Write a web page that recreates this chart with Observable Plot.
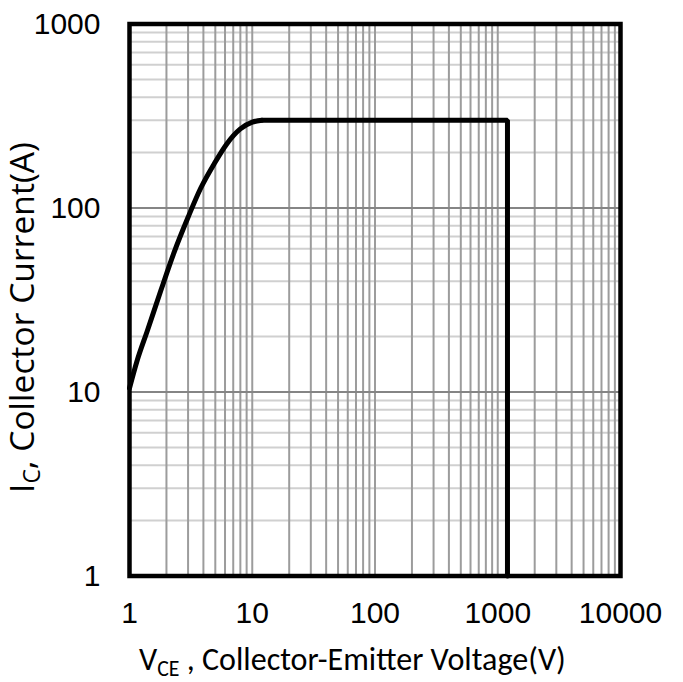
<!DOCTYPE html>
<html><head><meta charset="utf-8">
<script src="https://cdn.jsdelivr.net/npm/d3@7"></script>
<script src="https://cdn.jsdelivr.net/npm/@observablehq/plot@0.6"></script>
<style>body{margin:0;background:#fff}</style>
</head><body><div id="chart"></div>
<script>
// Safe operating area: knee region (rising curve) then current/voltage limits
const kneeV = [1, 1.15, 1.4, 1.8, 2.3, 3, 3.8, 4.9, 6.2, 8, 10, 12];
const kneeI = [10.5, 14.7, 21.6, 35.6, 57, 89, 128, 174, 223, 269, 293, 300];
const limitV = [12, 1200, 1200];
const limitI = [300, 300, 1];
const xTicks = [1, 10, 100, 1000, 10000];
const yTicks = [1, 10, 100, 1000];
const xLabel = ["V", "CE", " , Collector-Emitter Voltage(V)"];
const yLabel = ["I", "C", ", Collector Current(A)"];

const knee = kneeV.map((v, i) => ({v, i: kneeI[i]}));
const limit = limitV.map((v, i) => ({v, i: limitI[i]}));

function minors(decades) {
  const out = [];
  for (const b of decades) for (let k = 2; k <= 9; k++) out.push(b * k);
  return out;
}
const xGrid = minors([1, 10, 100, 1000]).concat([10, 100, 1000]);
const yMinor = minors([1, 10, 100]);
const yMajor = [10, 100];

const tickFont = "Liberation Sans";

const plot = Plot.plot({
  width: 683,
  height: 682,
  marginLeft: 129,
  marginRight: 63,
  marginTop: 23.5,
  marginBottom: 106.5,
  style: {fontFamily: tickFont, fontSize: "30px", background: "#fff", color: "#000"},
  x: {type: "log", domain: [1, 10000]},
  y: {type: "log", domain: [1, 1000]},
  marks: [
    Plot.ruleY(yMinor, {stroke: "#d0d0d0", strokeWidth: 2}),
    Plot.ruleX(xGrid, {stroke: "#9c9c9c", strokeWidth: 2}),
    Plot.ruleY(yMajor, {stroke: "#858585", strokeWidth: 2}),
    Plot.axisX({ticks: xTicks, tickFormat: d => String(d), tickSize: 0, tickPadding: 26, label: null, fontSize: 30, fontFamily: tickFont}),
    Plot.axisY({ticks: yTicks, tickFormat: d => String(d), tickSize: 0, tickPadding: 29, label: null, fontSize: 30, fontFamily: tickFont}),
    Plot.line(knee, {x: "v", y: "i", stroke: "#000", strokeWidth: 5, curve: "monotone-x"}),
    Plot.line(limit, {x: "v", y: "i", stroke: "#000", strokeWidth: 5, strokeLinejoin: "miter"}),
    Plot.frame({stroke: "#000", strokeWidth: 4.5})
  ]
});
document.getElementById("chart").appendChild(plot);

const svg = d3.select(plot);
function label(parts, transform, font, targetLen, subShift) {
  const t = svg.append("text")
    .attr("transform", transform)
    .attr("text-anchor", "start")
    .attr("font-family", font)
    .attr("font-size", 28)
    .attr("fill", "#000");
  t.append("tspan").text(parts[0]);
  const sub = t.append("tspan").attr("dy", subShift).attr("font-size", 19).text(parts[1]);
  t.append("tspan").attr("dy", -subShift).text(parts[2]);
  const w = t.node().getComputedTextLength();
  const s = 28 * targetLen / w;
  t.attr("font-size", s);
  sub.attr("font-size", s * 0.68);
  return t;
}
label(xLabel, "translate(139,670)", "Carlito", 427, 6);
label(yLabel, "translate(34,493) rotate(-90)", "Open Sans", 351, 6);
</script>
</body></html>
